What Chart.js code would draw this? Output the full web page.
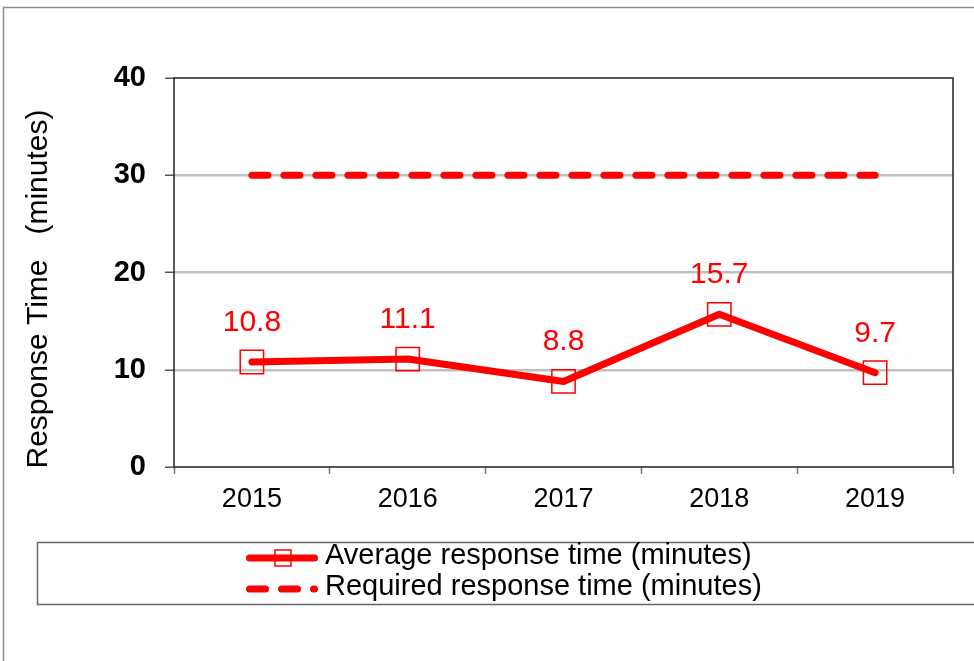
<!DOCTYPE html>
<html>
<head>
<meta charset="utf-8">
<script src="https://cdn.jsdelivr.net/npm/chart.js@4.4.1/dist/chart.umd.min.js"></script>
<style>
  html, body { margin: 0; padding: 0; background: #fff; }
  canvas { display: block; }
</style>
</head>
<body>
<canvas id="grafico" width="974" height="661"></canvas>
<script>
const anos = ['2015', '2016', '2017', '2018', '2019'];
const tempoMedio = [10.8, 11.1, 8.8, 15.7, 9.7];
const tempoExigido = [30, 30, 30, 30, 30];
const ticksY = [0, 10, 20, 30, 40];

const FONTE = '"Liberation Sans", Arial, sans-serif';
const VERMELHO = '#ff0000';

// moldura, titulo do eixo, rotulos e legenda desenhados a mao
const extras = {
    id: 'extras',
    beforeDraw(chart) {
        const ctx = chart.ctx;
        ctx.save();
        ctx.strokeStyle = '#8c8c8c';
        ctx.lineWidth = 1.5;
        ctx.strokeRect(3.5, 7.5, 1000, 700);
        ctx.restore();
    },
    afterDatasetsDraw(chart) {
        const ctx = chart.ctx;
        const meta = chart.getDatasetMeta(0);
        ctx.save();
        ctx.fillStyle = VERMELHO;
        ctx.font = '30px ' + FONTE;
        ctx.textAlign = 'center';
        ctx.textBaseline = 'alphabetic';
        meta.data.forEach((p, i) => {
            ctx.fillText(chart.data.datasets[0].data[i].toFixed(1), p.x, p.y - 31);
        });
        ctx.restore();
    },
    afterDraw(chart) {
        const ctx = chart.ctx;
        const a = chart.chartArea;
        ctx.save();

        // borda da area do grafico
        ctx.strokeStyle = '#222';
        ctx.lineWidth = 1.5;
        ctx.strokeRect(a.left, a.top, a.right - a.left, a.bottom - a.top);

        // titulo do eixo Y
        ctx.fillStyle = '#000';
        ctx.font = '30px ' + FONTE;
        ctx.textAlign = 'center';
        ctx.textBaseline = 'middle';
        ctx.translate(39, 289);
        ctx.rotate(-Math.PI / 2);
        ctx.fillText('Response Time   (minutes)', 0, 0);
        ctx.restore();

        // legenda
        ctx.save();
        ctx.strokeStyle = '#666';
        ctx.lineWidth = 1.5;
        ctx.strokeRect(37.5, 542.5, 960, 62);
        const linhas = [558, 589];
        chart.data.datasets.forEach((ds, i) => {
            const y = linhas[i];
            ctx.strokeStyle = ds.borderColor;
            ctx.lineWidth = ds.borderWidth;
            ctx.lineCap = 'round';
            ctx.setLineDash(ds.borderDash || []);
            ctx.beginPath();
            ctx.moveTo(249.5, y);
            ctx.lineTo(314.5, y);
            ctx.stroke();
            ctx.setLineDash([]);
            if (ds.pointRadius > 0) {
                ctx.lineWidth = 1.5;
                ctx.strokeRect(275, y - 8, 16, 16);
            }
            ctx.fillStyle = '#000';
            ctx.font = '29px ' + FONTE;
            ctx.textAlign = 'left';
            ctx.textBaseline = 'alphabetic';
            ctx.fillText(ds.label, 325, y + 6);
        });
        ctx.restore();
    }
};

const grafico = new Chart(document.getElementById('grafico'), {
    type: 'line',
    data: {
        labels: anos,
        datasets: [
            {
                label: 'Average response time (minutes)',
                data: tempoMedio,
                borderColor: VERMELHO,
                borderWidth: 7,
                borderCapStyle: 'round',
                borderJoinStyle: 'round',
                pointStyle: 'rect',
                pointRadius: 16.5,
                pointBorderWidth: 1.5,
                pointBorderColor: VERMELHO,
                pointBackgroundColor: 'rgba(0,0,0,0)',
                tension: 0
            },
            {
                label: 'Required response time (minutes)',
                data: tempoExigido,
                borderColor: VERMELHO,
                borderWidth: 7,
                borderDash: [16, 16],
                borderCapStyle: 'round',
                pointRadius: 0,
                tension: 0
            }
        ]
    },
    options: {
        responsive: false,
        animation: false,
        devicePixelRatio: 1,
        layout: { padding: { left: 0, top: 78, right: 21, bottom: 134 } },
        plugins: { legend: { display: false }, tooltip: { enabled: false } },
        scales: {
            x: {
                offset: true,
                border: { display: false },
                grid: {
                    offset: true,
                    drawOnChartArea: false,
                    drawTicks: true,
                    tickLength: 7,
                    tickColor: '#777',
                    tickWidth: 1.5
                },
                ticks: { color: '#000', font: { family: FONTE, size: 27 }, padding: 9 },
                afterFit: (s) => { s.height = 60; }
            },
            y: {
                min: ticksY[0],
                max: ticksY[ticksY.length - 1],
                border: { display: false },
                afterBuildTicks: (s) => { s.ticks = ticksY.map(v => ({ value: v })); },
                grid: {
                    color: (c) => (c.tick && (c.tick.value === 0 || c.tick.value === 40)) ? 'rgba(0,0,0,0)' : '#c0c0c0',
                    lineWidth: 2.5,
                    tickLength: 9,
                    tickColor: '#555',
                    tickWidth: 1.5
                },
                ticks: { color: '#000', font: { family: FONTE, size: 29, weight: 'bold' }, padding: 19 },
                afterFit: (s) => { s.width = 174; }
            }
        }
    },
    plugins: [extras]
});
</script>
</body>
</html>
